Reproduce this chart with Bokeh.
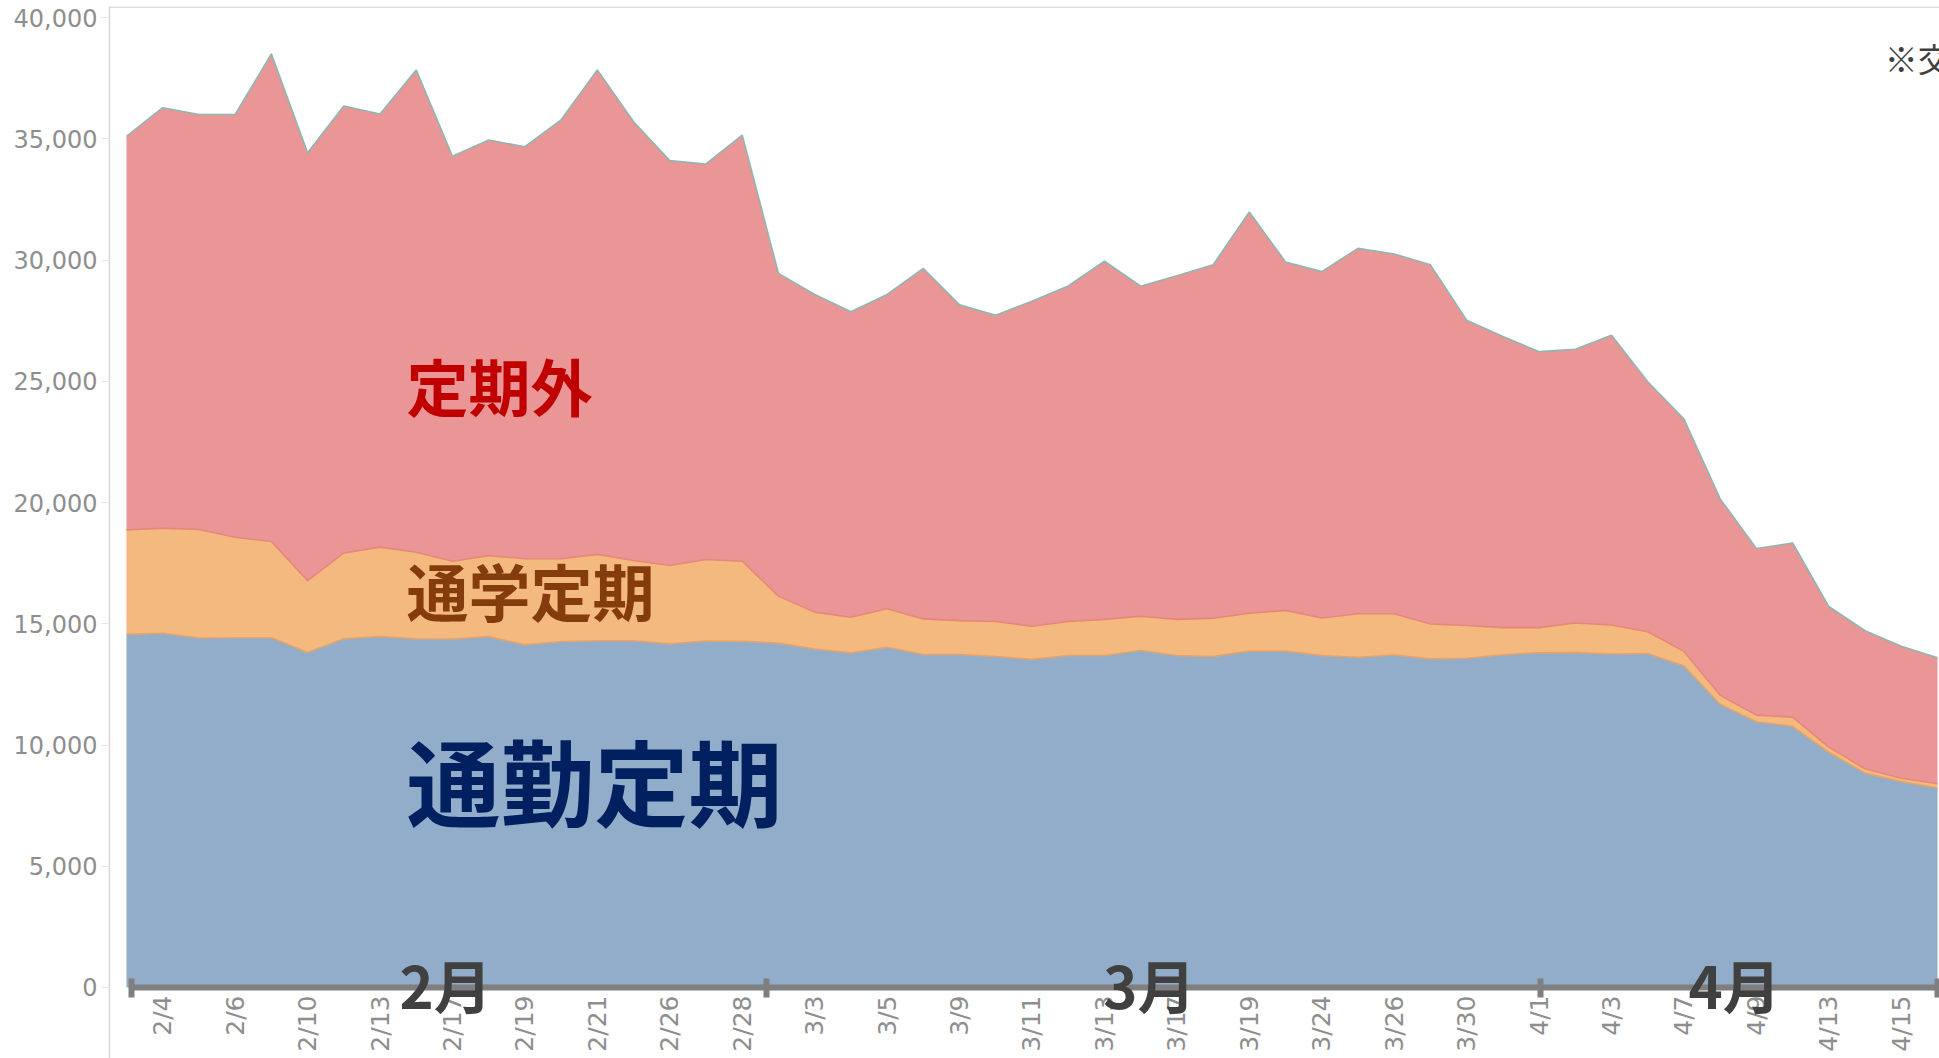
import math
from bokeh.plotting import figure
from bokeh.models import (ColumnDataSource, FixedTicker, Range1d, LinearAxis,
                          NumeralTickFormatter, CustomJSTickFormatter, Label, Span)
from bokeh.embed import file_html
from bokeh.resources import INLINE

# ---- data (business days, Feb 3 - Apr 16) ----
dates = ["2/3", "2/4", "2/5", "2/6", "2/7", "2/10", "2/12", "2/13", "2/14",
         "2/17", "2/18", "2/19", "2/20", "2/21", "2/25", "2/26", "2/27", "2/28",
         "3/2", "3/3", "3/4", "3/5", "3/6", "3/9", "3/10", "3/11", "3/12", "3/13",
         "3/16", "3/17", "3/18", "3/19", "3/23", "3/24", "3/25", "3/26", "3/27",
         "3/30", "3/31", "4/1", "4/2", "4/3", "4/6", "4/7", "4/8", "4/9", "4/10",
         "4/13", "4/14", "4/15", "4/16"]

commute = [14560, 14610, 14410, 14420, 14420, 13810, 14380, 14470, 14380, 14370,
           14470, 14130, 14270, 14300, 14300, 14170, 14290, 14280, 14200, 13960,
           13800, 14030, 13730, 13730, 13650, 13530, 13690, 13690, 13900, 13690,
           13650, 13870, 13870, 13690, 13620, 13710, 13550, 13580, 13720, 13800,
           13810, 13750, 13770, 13260, 11680, 10960, 10770, 9700, 8840, 8490, 8230]

school = [4310, 4330, 4480, 4150, 3970, 2970, 3540, 3690, 3570, 3210,
          3340, 3550, 3410, 3560, 3310, 3230, 3360, 3300, 1940, 1520,
          1470, 1590, 1470, 1400, 1440, 1370, 1400, 1490, 1410, 1490,
          1580, 1560, 1680, 1550, 1790, 1700, 1440, 1350, 1120, 1040,
          1220, 1200, 900, 600, 370, 270, 380, 210, 180, 140, 170]

other = [16230, 17340, 17110, 17430, 20110, 17640, 18430, 17860, 19880, 16700,
         17140, 16990, 18100, 19980, 18090, 16700, 16310, 17570, 13310, 13100,
         12600, 12960, 14450, 13020, 12630, 13400, 13840, 14770, 13610, 14170,
         14570, 16550, 14370, 14280, 15070, 14840, 14810, 12590, 12010, 11380,
         11290, 11950, 10310, 9580, 8100, 6870, 7180, 5800, 5690, 5440, 5200]

series_names = ["通勤定期", "通学定期", "定期外"]
y_ticks = [0, 5000, 10000, 15000, 20000, 25000, 30000, 35000, 40000]
label_ticks = list(range(1, len(dates), 2))
months = ["2月", "3月", "4月"]
month_bounds = [0.138, 17.67, 39.04, 50.0]     # month divider positions (index units)
month_label_x = [8.81, 28.24, 44.4]
note_text = "※交"

# ---- styling ----
fill_colors = ["#92adc9", "#f4b97e", "#ea9697"]
edge_colors = ["#e3a46c", "#e7877b", "#8db7b1"]
label_colors = ["#002060", "#843c0c", "#c00000"]
CJK = "Noto Sans CJK JP"
NUM = "DejaVu Sans"
TICK_GRAY = "#8e8e8e"

x = list(range(len(dates)))
src = ColumnDataSource(dict(x=x, commute=commute, school=school, other=other))

x_start, x_end = -0.469, 50.055
y_start, y_end = -2928, 40454
p = figure(width=1939, height=1058,
           x_range=Range1d(x_start, x_end), y_range=Range1d(y_start, y_end),
           output_backend="svg", toolbar_location=None,
           min_border_left=109, min_border_right=0,
           min_border_top=6, min_border_bottom=0)

p.varea_stack(["commute", "school", "other"], x="x", source=src,
              color=fill_colors)
p.vline_stack(["commute", "school", "other"], x="x", source=src,
              color=edge_colors, line_width=1.6)

p.xgrid.visible = False
p.ygrid.visible = False
p.outline_line_color = None
p.background_fill_color = "white"
p.border_fill_color = "white"
p.add_layout(Span(location=y_end - 25, dimension="width",
                  line_color="#d2d2d2", line_width=1.2))

# y axis
ya = p.yaxis[0]
ya.ticker = FixedTicker(ticks=y_ticks)
ya.formatter = NumeralTickFormatter(format="0,0")
ya.axis_line_color = "#d6d6d6"
ya.axis_line_width = 1.5
ya.major_tick_line_color = "#e4e4e4"
ya.major_tick_in = 0
ya.major_tick_out = 8
ya.minor_tick_line_color = None
ya.major_label_standoff = 4
ya.major_label_text_font = NUM
ya.major_label_text_font_size = "24px"
ya.major_label_text_color = TICK_GRAY

# month axis (thick gray line with dividers), drawn at y = 0
xa = p.xaxis[0]
xa.fixed_location = 0
xa.ticker = FixedTicker(ticks=month_bounds)
xa.bounds = (0.07, x_end)
xa.axis_line_color = "#7f7f7f"
xa.axis_line_width = 6
xa.major_tick_line_color = "#7f7f7f"
xa.major_tick_line_width = 6
xa.major_tick_in = 9
xa.major_tick_out = 10
xa.minor_tick_line_color = None
xa.formatter = CustomJSTickFormatter(code="return ''")
xa.major_label_text_font_size = "2px"
xa.major_label_standoff = 0

# date label axis, also at y = 0
da = LinearAxis(ticker=FixedTicker(ticks=label_ticks),
                major_label_overrides={i: dates[i] for i in label_ticks},
                fixed_location=0)
da.major_label_orientation = math.pi / 2
da.axis_line_color = None
da.major_tick_line_color = None
da.minor_tick_line_color = None
da.major_tick_out = 0
da.major_tick_in = 0
da.major_label_standoff = 8
da.major_label_text_font = NUM
da.major_label_text_font_size = "25px"
da.major_label_text_color = TICK_GRAY
p.add_layout(da, "below")

# series labels inside areas
p.add_layout(Label(x=7.73, y=8580, text=series_names[0], text_font=CJK,
                   text_font_style="bold", text_font_size="94px",
                   text_color=label_colors[0], text_align="left",
                   text_baseline="middle"))
p.add_layout(Label(x=7.73, y=16410, text=series_names[1], text_font=CJK,
                   text_font_style="bold", text_font_size="62px",
                   text_color=label_colors[1], text_align="left",
                   text_baseline="middle"))
p.add_layout(Label(x=7.73, y=24850, text=series_names[2], text_font=CJK,
                   text_font_style="bold", text_font_size="62px",
                   text_color=label_colors[2], text_align="left",
                   text_baseline="middle"))

# month labels over the axis line
for mx, mt in zip(month_label_x, months):
    p.add_layout(Label(x=mx, y=150, text=mt, text_font=CJK,
                       text_font_style="bold", text_font_size="58px",
                       text_color="#404040", text_align="center",
                       text_baseline="middle"))

# note at top right (cut off by the edge, as in the source)
p.add_layout(Label(x=48.54, y=38350, text=note_text, text_font=CJK,
                   text_font_size="33px", text_color="#404040",
                   text_align="left", text_baseline="middle"))

open("out.html", "w").write(file_html(p, INLINE))
